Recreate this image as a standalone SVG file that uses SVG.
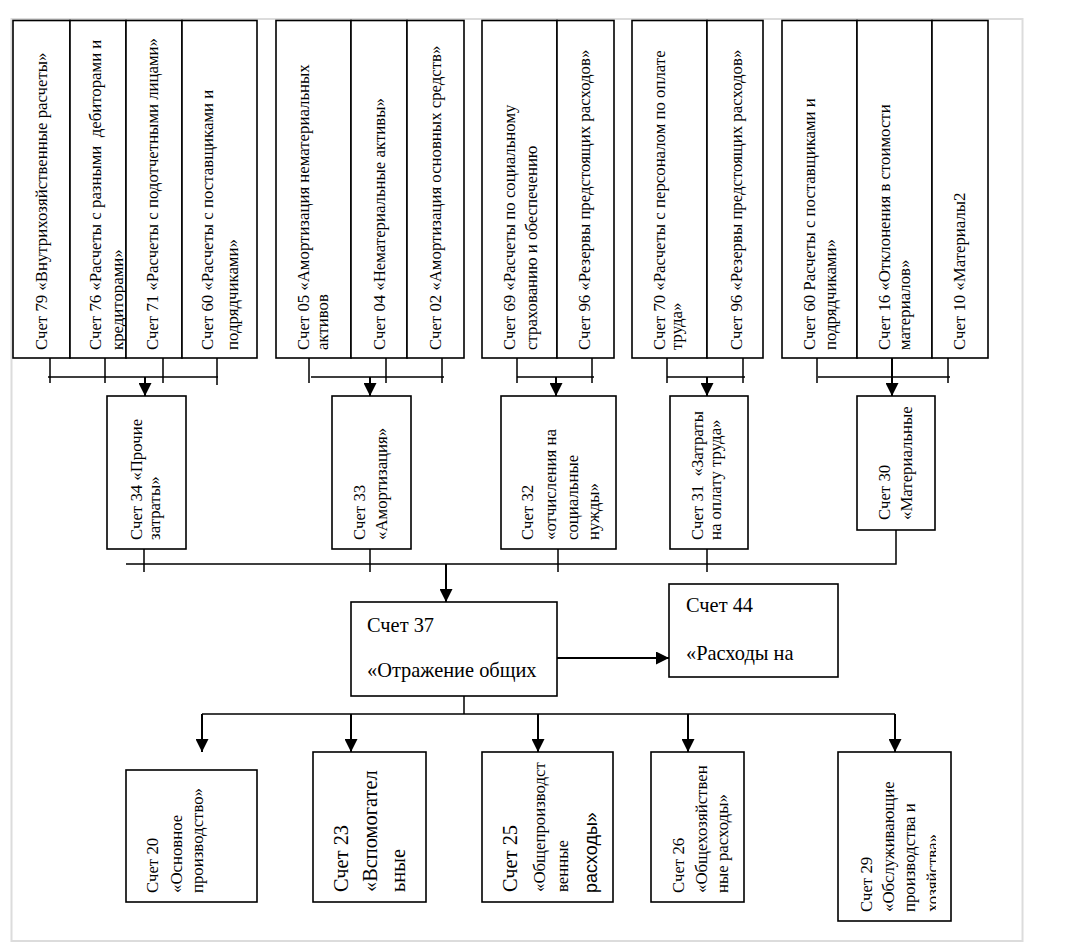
<svg xmlns="http://www.w3.org/2000/svg" width="1066" height="944" viewBox="0 0 1066 944">
<style>
.frame{fill:none;stroke:#dcdcdc;stroke-width:2}
.box{fill:#fff;stroke:#000;stroke-width:1.6}
.ln{fill:none;stroke:#000;stroke-width:1.5}
.ar{fill:none;stroke:#000;stroke-width:2;marker-end:url(#ah)}
text{font-family:"Liberation Serif","Times New Roman",serif;font-size:16.8px;fill:#000;white-space:pre}
.tl{font-size:20.4px}
.ts{font-family:"Liberation Sans",Arial,sans-serif;font-size:18px}
</style>
<defs>
<marker id="ah" markerUnits="userSpaceOnUse" markerWidth="13" markerHeight="13" viewBox="0 0 13 13" refX="13" refY="6.5" orient="auto"><path d="M0,0L13,6.5L0,13z" fill="#000"/></marker>
<clipPath id="c29" clipPathUnits="userSpaceOnUse"><rect x="838" y="752" width="98" height="169"/></clipPath>
</defs>
<rect class="frame" x="11.5" y="19" width="1011" height="922"/>

<g id="connectors">
<path class="ln" d="M50,358V383M105,358V383M163,358V383M217,355V385M48,377H218"/>
<path class="ln" d="M309,358V383M386,358V383M442,358V383M311,377H444"/>
<path class="ln" d="M517,358V383M592,358V383M517,377H594"/>
<path class="ln" d="M667,358V383M743,358V383M667,377H745"/>
<path class="ln" d="M817,358V383M948,358V383M818,377H950"/>
<path class="ln" d="M126,564H896V530M144,549V572M370,549V572M558,549V572M707,549V572"/>
<path class="ln" d="M464,696V714M202,714H895"/>
<path class="ar" d="M145,377V396"/>
<path class="ar" d="M370,377V396"/>
<path class="ar" d="M556,377V396"/>
<path class="ar" d="M707,377V396"/>
<path class="ar" d="M892,358V396"/>
<path class="ar" d="M446,564V602"/>
<path class="ar" d="M557,658H669"/>
<path class="ar" d="M202,714V752"/>
<path class="ar" d="M351,714V752"/>
<path class="ar" d="M538,714V752"/>
<path class="ar" d="M688,714V752"/>
<path class="ar" d="M895,714V752"/>
</g>

<g id="n79"><rect class="box" x="13" y="20.5" width="57" height="337.5"/>
<text transform="translate(0,350) rotate(-90)"><tspan x="0" y="47">Счет 79 «Внутрихозяйственные расчеты»</tspan></text></g>
<g id="n76"><rect class="box" x="70" y="20.5" width="56" height="337.5"/>
<text transform="translate(0,350) rotate(-90)"><tspan x="0" y="101">Счет 76 «Расчеты с разными  дебиторами и</tspan><tspan x="0" y="123">кредиторами»</tspan></text></g>
<g id="n71"><rect class="box" x="126" y="20.5" width="56" height="337.5"/>
<text transform="translate(0,350) rotate(-90)"><tspan x="0" y="158">Счет 71 «Расчеты с подотчетными лицами»</tspan></text></g>
<g id="n60a"><rect class="box" x="182" y="20.5" width="75" height="337.5"/>
<text transform="translate(0,350) rotate(-90)"><tspan x="0" y="213">Счет 60 «Расчеты с поставщиками и</tspan><tspan x="0" y="238">подрядчиками»</tspan></text></g>

<g id="n05"><rect class="box" x="276" y="20.5" width="75" height="337.5"/>
<text transform="translate(0,350) rotate(-90)"><tspan x="0" y="309">Счет 05 «Амортизация нематериальных</tspan><tspan x="0" y="328">активов</tspan></text></g>
<g id="n04"><rect class="box" x="351" y="20.5" width="56" height="337.5"/>
<text transform="translate(0,350) rotate(-90)"><tspan x="0" y="385">Счет 04 «Нематериальные активы»</tspan></text></g>
<g id="n02"><rect class="box" x="407" y="20.5" width="57" height="337.5"/>
<text transform="translate(0,350) rotate(-90)"><tspan x="0" y="441">Счет 02 «Амортизация основных средств»</tspan></text></g>

<g id="n69"><rect class="box" x="482" y="20.5" width="75" height="337.5"/>
<text transform="translate(0,350) rotate(-90)"><tspan x="0" y="515">Счет 69 «Расчеты по социальному</tspan><tspan x="0" y="537">страхованию и обеспечению</tspan></text></g>
<g id="n96a"><rect class="box" x="557" y="20.5" width="57" height="337.5"/>
<text transform="translate(0,350) rotate(-90)"><tspan x="0" y="590">Счет 96 «Резервы предстоящих расходов»</tspan></text></g>

<g id="n70"><rect class="box" x="632" y="20.5" width="75" height="337.5"/>
<text transform="translate(0,350) rotate(-90)"><tspan x="0" y="665">Счет 70 «Расчеты с персоналом по оплате</tspan><tspan x="0" y="682">труда»</tspan></text></g>
<g id="n96b"><rect class="box" x="707" y="20.5" width="56" height="337.5"/>
<text transform="translate(0,350) rotate(-90)"><tspan x="0" y="742">Счет 96 «Резервы предстоящих расходов»</tspan></text></g>

<g id="n60b"><rect class="box" x="782" y="20.5" width="75" height="337.5"/>
<text transform="translate(0,350) rotate(-90)"><tspan x="0" y="815">Счет 60 Расчеты с поставщиками и</tspan><tspan x="0" y="836">подрядчиками»</tspan></text></g>
<g id="n16"><rect class="box" x="857" y="20.5" width="75" height="337.5"/>
<text transform="translate(0,350) rotate(-90)"><tspan x="0" y="890">Счет 16 «Отклонения в стоимости</tspan><tspan x="0" y="910">материалов»</tspan></text></g>
<g id="n10"><rect class="box" x="932" y="20.5" width="56" height="337.5"/>
<text transform="translate(0,350) rotate(-90)"><tspan x="0" y="965">Счет 10 «Материалы2</tspan></text></g>

<g id="n34"><rect class="box" x="107" y="396" width="79" height="153"/>
<text transform="translate(0,540) rotate(-90)"><tspan x="0" y="142">Счет 34 «Прочие</tspan><tspan x="0" y="160">затраты»</tspan></text></g>
<g id="n33"><rect class="box" x="332" y="396" width="79" height="153"/>
<text transform="translate(0,540) rotate(-90)"><tspan x="0" y="365">Счет 33</tspan><tspan x="0" y="387">«Амортизация»</tspan></text></g>
<g id="n32"><rect class="box" x="501" y="396" width="115" height="153"/>
<text transform="translate(0,540) rotate(-90)"><tspan x="0" y="533">Счет 32</tspan><tspan x="0" y="556">«отчисления на</tspan><tspan x="0" y="578">социальные</tspan><tspan x="0" y="599">нужды»</tspan></text></g>
<g id="n31"><rect class="box" x="670" y="396" width="78" height="153"/>
<text transform="translate(0,540) rotate(-90)"><tspan x="0" y="703">Счет 31  «Затраты</tspan><tspan x="0" y="721">на оплату труда»</tspan></text></g>
<g id="n30"><rect class="box" x="857" y="396" width="78" height="134"/>
<text transform="translate(0,520) rotate(-90)"><tspan x="0" y="890">Счет 30</tspan><tspan x="0" y="912">«Материальные</tspan></text></g>

<g id="n37"><rect class="box" x="351" y="602" width="206" height="94"/>
<text class="tl" x="367" y="632">Счет 37</text>
<text class="tl" x="367" y="677">«Отражение общих</text></g>
<g id="n44"><rect class="box" x="669" y="584" width="169" height="93"/>
<text class="tl" x="686" y="612">Счет 44</text>
<text class="tl" x="686" y="660">«Расходы на</text></g>

<g id="n20"><rect class="box" x="126" y="770" width="131" height="132"/>
<text transform="translate(0,893) rotate(-90)"><tspan x="0" y="158">Счет 20</tspan><tspan x="0" y="182">«Основное</tspan><tspan x="0" y="203">производство»</tspan></text></g>
<g id="n23"><rect class="box" x="313" y="752" width="113" height="150"/>
<text class="tl" transform="translate(0,892) rotate(-90)"><tspan x="0" y="348">Счет 23</tspan><tspan x="0" y="377">«Вспомогател</tspan><tspan x="0" y="405">ьные</tspan></text></g>
<g id="n25"><rect class="box" x="482" y="752" width="131" height="150"/>
<text class="tl" transform="translate(0,892) rotate(-90)"><tspan x="0" y="517">Счет 25</tspan></text>
<text transform="translate(0,892) rotate(-90)"><tspan x="0" y="545">«Общепроизводст</tspan><tspan x="0" y="568">венные</tspan></text>
<text class="ts" transform="translate(0,893) rotate(-90)"><tspan x="0" y="597">расходы»</tspan></text></g>
<g id="n26"><rect class="box" x="651" y="752" width="93" height="150"/>
<text transform="translate(0,893) rotate(-90)"><tspan x="0" y="684">Счет 26</tspan><tspan x="0" y="707">«Общехозяйствен</tspan><tspan x="0" y="728">ные расходы»</tspan></text></g>
<g id="n29"><rect class="box" x="838" y="752" width="113" height="169"/>
<text transform="translate(0,912) rotate(-90)"><tspan x="0" y="872">Счет 29</tspan><tspan x="0" y="894">«Обслуживающие</tspan><tspan x="0" y="915">производства и</tspan></text>
<g clip-path="url(#c29)"><text transform="translate(0,912) rotate(-90)"><tspan x="0" y="938">хозяйства»</tspan></text></g></g>
</svg>
